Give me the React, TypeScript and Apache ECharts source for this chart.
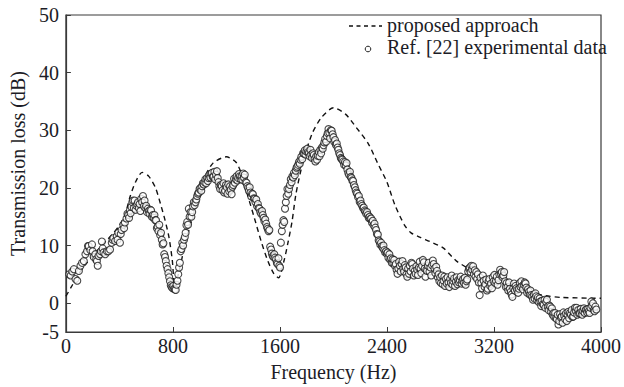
import React, { useEffect, useRef } from "react";
import * as echarts from "echarts";

const xTicks = [0, 800, 1600, 2400, 3200, 4000];
const yTickLabels = [-5, 0, 10, 20, 30, 40, 50];
const yTickMarks = [0, 10, 20, 30, 40, 50];

const legendNames = ["proposed approach", "Ref. [22] experimental data"];

// proposed approach: [frequency Hz, transmission loss dB]
const proposed: number[][] = [
  [0, 1.2], [50, 3.2], [100, 5.2], [150, 6.8], [200, 8.3], [250, 9.5], [300, 10.8],
  [350, 12.0], [400, 13.5], [440, 15.2], [480, 18.5], [520, 21.0], [570, 22.7],
  [620, 22.0], [670, 20.0], [710, 17.0], [740, 14.5], [770, 11.5], [795, 7.5],
  [815, 2.8], [840, 5.0], [865, 7.5], [895, 10.7], [930, 13.5], [970, 16.9],
  [1030, 21.5], [1100, 24.3], [1200, 25.4], [1270, 24.5], [1310, 22.6], [1360, 18.6],
  [1410, 14.7], [1460, 10.7], [1510, 7.3], [1555, 5.1], [1590, 4.4], [1632, 7.5],
  [1660, 10.5], [1690, 14.1], [1720, 19.0], [1770, 24.3], [1840, 29.4], [1910, 32.2],
  [2000, 33.9], [2090, 32.8], [2170, 30.5], [2260, 27.7], [2330, 24.3], [2400, 21.0],
  [2460, 17.0], [2530, 13.6], [2580, 12.2], [2650, 11.4], [2720, 10.7], [2820, 9.6],
  [2920, 7.3], [3020, 5.9], [3140, 4.5], [3260, 3.4], [3410, 2.3], [3560, 1.4],
  [3700, 1.0], [4000, 0.85],
];

// Ref. [22] experimental data: [frequency Hz, transmission loss dB]
const experimental: number[][] = [
  [25, 5.0], [36, 4.8], [48, 5.5], [60, 5.9], [72, 4.2], [85, 3.9], [97, 5.6], [109, 6.5],
  [121, 7.0], [134, 7.3], [146, 8.5], [158, 9.0], [165, 9.9], [171, 9.9], [183, 9.2],
  [195, 10.2], [200, 9.0], [208, 8.0], [220, 8.5], [226, 7.6], [232, 7.3], [238, 6.5],
  [244, 8.2], [256, 8.5], [262, 9.0], [269, 10.7], [275, 9.5], [281, 8.8], [294, 8.5],
  [306, 9.0], [318, 9.0], [330, 9.3], [343, 10.5], [349, 11.0], [355, 11.3], [368, 10.8],
  [380, 11.6], [386, 11.0], [392, 12.2], [404, 10.5], [410, 12.0], [416, 12.7], [429, 13.6],
  [435, 13.0], [441, 14.0], [453, 14.7], [460, 15.5], [466, 15.3], [472, 14.8], [478, 16.1],
  [484, 15.6], [490, 16.7], [496, 17.5], [502, 17.8], [508, 16.5], [514, 17.8], [521, 16.2],
  [527, 16.9], [533, 17.2], [539, 17.5], [545, 16.5], [551, 17.2], [557, 16.0], [563, 18.1],
  [570, 17.5], [576, 18.6], [582, 16.8], [588, 17.8], [594, 16.5], [600, 16.9], [606, 15.8],
  [613, 16.4], [619, 16.0], [625, 15.5], [631, 16.2], [637, 16.1], [643, 15.0], [650, 15.3],
  [656, 14.8], [662, 15.3], [668, 14.4], [674, 14.4], [680, 13.0], [686, 13.3], [692, 12.5],
  [698, 13.6], [705, 11.8], [711, 12.2], [717, 11.0], [723, 10.2], [729, 10.4], [735, 8.5],
  [741, 8.0], [747, 7.3], [753, 6.5], [760, 5.9], [766, 5.2], [772, 4.5], [778, 3.8],
  [784, 3.1], [790, 2.8], [797, 2.6], [803, 3.0], [809, 2.5], [815, 2.4], [821, 2.3],
  [827, 3.2], [834, 3.9], [840, 5.0], [846, 6.2], [852, 7.0], [858, 9.0], [864, 9.4],
  [870, 10.5], [876, 10.0], [883, 11.0], [889, 11.5], [895, 12.2], [901, 13.5], [907, 14.1],
  [913, 13.6], [919, 16.4], [925, 15.0], [932, 15.8], [938, 15.0], [944, 15.8], [950, 16.8],
  [956, 17.5], [962, 17.0], [969, 17.5], [975, 18.0], [981, 18.6], [987, 19.0], [993, 19.2],
  [999, 19.8], [1006, 20.0], [1012, 19.5], [1018, 20.3], [1024, 20.8], [1030, 20.6],
  [1036, 21.0], [1043, 21.5], [1049, 20.8], [1055, 21.7], [1061, 21.2], [1067, 21.7],
  [1073, 22.3], [1080, 21.8], [1086, 22.5], [1092, 22.6], [1098, 21.9], [1104, 22.0],
  [1110, 22.8], [1116, 21.5], [1122, 22.3], [1129, 22.9], [1135, 21.7], [1141, 21.0],
  [1147, 20.3], [1153, 19.8], [1159, 20.5], [1165, 20.3], [1171, 19.6], [1178, 20.8],
  [1184, 19.2], [1190, 19.5], [1196, 20.5], [1202, 20.1], [1208, 19.0], [1214, 20.6],
  [1221, 19.4], [1227, 20.3], [1233, 19.7], [1239, 18.9], [1245, 20.2], [1251, 20.5],
  [1257, 21.6], [1263, 20.9], [1270, 21.5], [1276, 22.0], [1282, 21.3], [1288, 21.7],
  [1294, 22.4], [1300, 22.0], [1306, 21.5], [1313, 22.0], [1319, 21.4], [1325, 22.5],
  [1331, 21.8], [1337, 22.3], [1343, 21.0], [1350, 20.9], [1356, 20.3], [1362, 20.0],
  [1368, 19.5], [1374, 20.1], [1380, 19.2], [1386, 18.5], [1392, 19.0], [1398, 18.9],
  [1405, 18.2], [1411, 18.1], [1417, 17.5], [1423, 18.0], [1429, 16.8], [1435, 17.2],
  [1441, 16.5], [1447, 16.4], [1453, 15.8], [1460, 15.5], [1466, 16.0], [1472, 15.3],
  [1478, 14.8], [1484, 14.2], [1490, 14.5], [1497, 13.8], [1503, 13.2], [1509, 12.9],
  [1515, 12.5], [1521, 12.7], [1527, 9.8], [1534, 9.3], [1540, 8.6], [1546, 8.2],
  [1552, 8.0], [1558, 8.5], [1564, 7.9], [1571, 7.6], [1577, 7.0], [1582, 6.8], [1589, 7.8],
  [1595, 6.5], [1601, 6.2], [1607, 10.5], [1614, 12.5], [1620, 13.6], [1626, 14.4],
  [1632, 14.1], [1638, 16.4], [1644, 17.5], [1650, 18.6], [1656, 19.8], [1662, 19.0],
  [1668, 19.8], [1675, 20.5], [1681, 21.5], [1687, 21.0], [1693, 22.0], [1699, 21.8],
  [1705, 22.6], [1711, 22.2], [1718, 23.0], [1724, 23.5], [1730, 23.7], [1736, 24.0],
  [1742, 24.5], [1748, 24.2], [1754, 24.9], [1760, 25.4], [1767, 25.0], [1773, 26.0],
  [1779, 26.0], [1785, 26.5], [1791, 25.8], [1797, 26.3], [1804, 26.8], [1810, 26.2],
  [1816, 26.0], [1822, 25.5], [1828, 26.6], [1834, 25.8], [1840, 25.2], [1847, 26.0],
  [1853, 25.7], [1859, 25.0], [1865, 24.6], [1871, 25.5], [1877, 24.9], [1883, 25.6],
  [1890, 26.2], [1896, 25.5], [1902, 26.6], [1908, 26.0], [1914, 27.0], [1920, 26.8],
  [1926, 27.4], [1932, 27.9], [1938, 28.5], [1945, 28.0], [1951, 29.0], [1957, 29.5],
  [1963, 30.2], [1969, 29.6], [1975, 28.6], [1981, 30.0], [1987, 29.9], [1994, 29.3],
  [2000, 28.8], [2006, 28.0], [2012, 28.3], [2018, 27.5], [2025, 27.7], [2031, 27.0],
  [2037, 26.6], [2043, 26.0], [2049, 25.7], [2055, 25.2], [2061, 25.0], [2067, 24.9],
  [2074, 24.6], [2080, 24.0], [2086, 24.5], [2092, 23.9], [2098, 24.3], [2104, 23.2],
  [2111, 22.6], [2117, 22.3], [2123, 22.8], [2129, 21.9], [2135, 21.7], [2141, 21.3],
  [2147, 21.2], [2153, 20.5], [2160, 20.1], [2166, 19.6], [2172, 19.2], [2178, 19.0],
  [2184, 18.4], [2190, 18.6], [2196, 17.6], [2202, 17.8], [2208, 17.2], [2215, 16.9],
  [2221, 16.5], [2227, 16.6], [2233, 16.1], [2239, 15.9], [2245, 15.5], [2251, 15.8],
  [2258, 15.3], [2264, 14.8], [2270, 15.0], [2276, 14.6], [2282, 14.7], [2288, 14.0],
  [2294, 14.3], [2300, 13.5], [2307, 13.8], [2313, 13.1], [2319, 12.7], [2325, 12.0],
  [2332, 11.9], [2338, 10.9], [2344, 10.7], [2350, 10.2], [2356, 10.5], [2362, 9.9],
  [2368, 9.6], [2374, 10.0], [2380, 9.2], [2387, 8.8], [2393, 9.0], [2399, 8.6], [2405, 8.8],
  [2411, 7.9], [2418, 8.5], [2424, 7.6], [2430, 7.8], [2436, 7.0], [2442, 7.6], [2448, 6.9],
  [2454, 7.5], [2460, 6.5], [2466, 6.8], [2472, 5.8], [2479, 5.1], [2485, 6.0], [2491, 7.2],
  [2497, 6.5], [2503, 5.5], [2510, 6.8], [2516, 7.3], [2522, 6.0], [2528, 5.5], [2534, 6.6],
  [2540, 6.2], [2546, 5.0], [2552, 4.6], [2558, 6.0], [2565, 5.1], [2571, 6.5], [2577, 5.5],
  [2583, 7.0], [2589, 6.8], [2595, 6.0], [2601, 4.8], [2608, 5.6], [2614, 5.1], [2620, 6.4],
  [2626, 5.8], [2632, 4.9], [2639, 6.2], [2645, 7.2], [2651, 6.0], [2657, 5.2], [2663, 6.5],
  [2669, 7.5], [2676, 7.1], [2682, 6.0], [2688, 4.6], [2694, 5.8], [2700, 5.6], [2706, 6.5],
  [2712, 7.0], [2718, 5.5], [2725, 6.2], [2731, 4.8], [2737, 6.6], [2743, 7.4], [2749, 6.8],
  [2755, 6.0], [2762, 5.2], [2768, 6.3], [2774, 5.6], [2780, 4.5], [2786, 5.0], [2792, 3.8],
  [2798, 4.5], [2804, 3.5], [2811, 4.8], [2817, 3.3], [2823, 3.9], [2829, 4.6], [2835, 3.0],
  [2841, 4.2], [2847, 3.4], [2853, 4.5], [2860, 3.6], [2866, 2.8], [2872, 4.2], [2878, 3.5],
  [2884, 4.8], [2890, 3.2], [2896, 3.8], [2902, 4.3], [2909, 3.0], [2915, 3.7], [2921, 4.5],
  [2927, 3.3], [2933, 4.0], [2939, 3.6], [2945, 4.0], [2951, 4.6], [2958, 3.4], [2964, 3.9],
  [2970, 4.2], [2976, 3.5], [2982, 4.4], [2988, 3.2], [2994, 3.8], [3000, 4.1], [3007, 5.5],
  [3013, 6.0], [3019, 6.2], [3025, 5.4], [3031, 6.5], [3037, 5.8], [3044, 6.4], [3050, 5.0],
  [3056, 5.7], [3062, 4.6], [3068, 5.4], [3074, 4.2], [3080, 5.0], [3087, 3.6], [3093, 1.4],
  [3099, 4.4], [3105, 3.5], [3111, 2.6], [3117, 4.8], [3123, 3.9], [3130, 2.8], [3136, 3.3],
  [3142, 4.1], [3148, 2.2], [3154, 2.5], [3160, 3.8], [3166, 4.2], [3172, 3.0], [3178, 3.4],
  [3185, 2.6], [3191, 4.5], [3197, 3.8], [3203, 4.9], [3209, 3.5], [3215, 3.9], [3221, 4.6],
  [3227, 3.2], [3234, 4.0], [3240, 5.0], [3246, 5.8], [3252, 5.1], [3258, 5.4], [3264, 4.5],
  [3270, 4.8], [3276, 5.4], [3283, 3.8], [3289, 2.8], [3295, 3.5], [3301, 2.8], [3307, 2.2],
  [3313, 3.6], [3319, 2.5], [3326, 2.0], [3332, 1.5], [3338, 1.1], [3344, 2.6], [3350, 3.4],
  [3356, 2.2], [3362, 3.0], [3368, 2.6], [3374, 2.3], [3381, 1.8], [3387, 2.5], [3393, 3.5],
  [3399, 2.8], [3405, 3.8], [3411, 3.0], [3417, 2.4], [3424, 3.2], [3430, 3.6], [3436, 3.4],
  [3442, 2.7], [3448, 1.8], [3454, 2.4], [3461, 2.0], [3467, 1.5], [3473, 2.2], [3479, 1.4],
  [3486, 1.1], [3492, 0.6], [3498, 1.5], [3504, 0.8], [3510, 1.7], [3516, 1.2], [3522, 0.5],
  [3528, 1.0], [3534, 0.2], [3541, 0.8], [3547, 0.3], [3553, -0.5], [3559, 0.4], [3565, -0.2],
  [3572, -0.3], [3578, 0.6], [3584, -0.8], [3590, 0.2], [3596, 0.6], [3602, -0.6],
  [3608, -1.2], [3614, -0.4], [3621, -0.6], [3627, -1.5], [3633, -0.9], [3639, -2.0],
  [3645, -1.7], [3651, -2.4], [3657, -1.7], [3664, -2.6], [3670, -2.8], [3676, -2.0],
  [3682, -3.7], [3688, -3.1], [3694, -1.9], [3700, -2.5], [3707, -2.3], [3713, -3.4],
  [3719, -1.6], [3725, -2.2], [3732, -2.8], [3738, -1.8], [3744, -3.1], [3750, -2.0],
  [3756, -1.5], [3762, -2.6], [3768, -1.7], [3775, -2.0], [3781, -1.2], [3787, -2.4],
  [3793, -2.3], [3799, -1.6], [3805, -0.8], [3811, -1.3], [3817, -0.8], [3823, -2.0],
  [3830, -1.2], [3836, -1.8], [3842, -1.7], [3848, -1.0], [3854, -1.5], [3860, -2.0],
  [3866, -1.4], [3872, -0.9], [3878, -1.7], [3885, -1.2], [3891, -1.1], [3897, -1.6],
  [3903, -1.0], [3909, -1.4], [3915, -1.7], [3921, -0.8], [3928, 0.3], [3934, -0.5],
  [3940, 0.0], [3946, -1.2], [3952, -1.4], [3958, -0.6], [3965, -1.1],
];

const FONT = "'Liberation Serif', 'Times New Roman', serif";
const TEXT = "#1c1c26";
const AXIS = "#3a3a3a";

export default function App() {
  const ref = useRef<HTMLDivElement>(null);

  useEffect(() => {
    document.body.style.margin = "0";
    if (!ref.current) return;
    const chart = echarts.init(ref.current, null, { renderer: "svg" });
    chart.setOption({
      animation: false,
      backgroundColor: "#ffffff",
      grid: {
        left: 64,
        top: 15,
        right: 17,
        bottom: 48,
        show: true,
        borderColor: AXIS,
        borderWidth: 1.2,
      },
      xAxis: {
        type: "value",
        min: 0,
        max: 4000,
        interval: 800,
        name: "Frequency (Hz)",
        nameLocation: "middle",
        nameGap: 30,
        nameTextStyle: { fontFamily: FONT, fontSize: 20, color: TEXT },
        axisLine: { show: true, onZero: false, lineStyle: { color: AXIS, width: 1.2 } },
        axisTick: { show: true, inside: true, length: 5, lineStyle: { color: AXIS } },
        axisLabel: {
          fontFamily: FONT,
          fontSize: 20,
          color: TEXT,
          margin: 4,
          customValues: xTicks,
          formatter: (v: number) => String(v),
        },
        splitLine: { show: false },
      },
      yAxis: {
        type: "value",
        min: -5,
        max: 50,
        name: "Transmission loss (dB)",
        nameLocation: "middle",
        nameGap: 34,
        nameTextStyle: { fontFamily: FONT, fontSize: 20, color: TEXT, padding: [0, 0, 0, 20] },
        axisLine: { show: true, onZero: false, lineStyle: { color: AXIS, width: 1.2 } },
        axisTick: {
          show: true,
          inside: true,
          length: 5,
          lineStyle: { color: AXIS },
          customValues: yTickMarks,
        },
        axisLabel: {
          fontFamily: FONT,
          fontSize: 20,
          color: TEXT,
          margin: 7,
          customValues: yTickLabels,
          formatter: (v: number) => String(v),
        },
        splitLine: { show: false },
      },
      series: [
        {
          name: legendNames[0],
          type: "line",
          data: proposed,
          smooth: 0.25,
          symbol: "none",
          lineStyle: { color: "#111111", width: 1.4, type: [5, 4] },
          z: 2,
        },
        {
          name: legendNames[1],
          type: "scatter",
          data: experimental,
          symbol: "circle",
          symbolSize: 7,
          itemStyle: { color: "#ffffff", borderColor: "#1a1a1a", borderWidth: 1.1 },
          z: 3,
        },
      ],
      graphic: [
        {
          type: "line",
          shape: { x1: 349, y1: 26, x2: 382, y2: 26 },
          style: { stroke: "#111111", lineWidth: 1.3, lineDash: [4, 3.5] },
        },
        {
          type: "text",
          left: 387,
          top: 15,
          style: { text: legendNames[0], fontFamily: FONT, fontSize: 20, fill: TEXT },
        },
        {
          type: "circle",
          shape: { cx: 368, cy: 49, r: 2.8 },
          style: { fill: "#ffffff", stroke: "#222222", lineWidth: 1 },
        },
        {
          type: "text",
          left: 387,
          top: 37,
          style: { text: legendNames[1], fontFamily: FONT, fontSize: 20, fill: TEXT },
        },
      ],
    });
    return () => chart.dispose();
  }, []);

  return <div ref={ref} style={{ width: 624, height: 387 }} />;
}
